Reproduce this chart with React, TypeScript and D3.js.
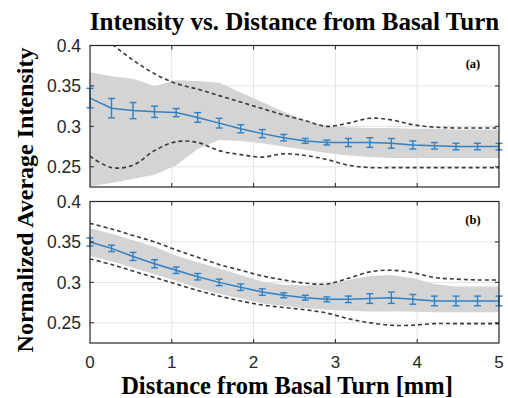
import React from "react";
import * as d3 from "d3";

// distance along the cochlea [mm], 20 samples from 0 to 5
const distances = [0, 0.263, 0.526, 0.789, 1.053, 1.316, 1.579, 1.842, 2.105, 2.368, 2.632, 2.895, 3.158, 3.421, 3.684, 3.947, 4.211, 4.474, 4.737, 5];

// panel (a)
const meanA = [0.335, 0.3225, 0.3195, 0.318, 0.317, 0.311, 0.304, 0.297, 0.291, 0.286, 0.282, 0.280, 0.280, 0.280, 0.279, 0.277, 0.276, 0.275, 0.275, 0.275];
const errA = [0.012, 0.012, 0.010, 0.007, 0.005, 0.006, 0.006, 0.005, 0.005, 0.004, 0.003, 0.003, 0.005, 0.006, 0.006, 0.005, 0.004, 0.004, 0.004, 0.004];
const bandHiA = [0.367, 0.362, 0.359, 0.350, 0.357, 0.356, 0.354, 0.342, 0.330, 0.318, 0.307, 0.300, 0.299, 0.298, 0.298, 0.297, 0.297, 0.296, 0.296, 0.296];
const bandLoA = [0.226, 0.230, 0.235, 0.240, 0.252, 0.272, 0.283, 0.282, 0.279, 0.275, 0.271, 0.267, 0.264, 0.262, 0.261, 0.261, 0.261, 0.261, 0.261, 0.261];
const dashHiA = [0.422, 0.402, 0.382, 0.365, 0.353, 0.346, 0.338, 0.330, 0.322, 0.314, 0.307, 0.300, 0.304, 0.310, 0.308, 0.302, 0.299, 0.298, 0.298, 0.298];
const dashLoA = [0.263, 0.249, 0.252, 0.270, 0.281, 0.280, 0.270, 0.265, 0.262, 0.266, 0.264, 0.259, 0.252, 0.249, 0.249, 0.249, 0.249, 0.249, 0.249, 0.249];

// panel (b)
const meanB = [0.350, 0.342, 0.332, 0.323, 0.315, 0.307, 0.300, 0.294, 0.288, 0.284, 0.281, 0.279, 0.279, 0.280, 0.281, 0.279, 0.277, 0.277, 0.277, 0.277];
const errB = [0.005, 0.004, 0.005, 0.005, 0.004, 0.004, 0.004, 0.004, 0.004, 0.003, 0.003, 0.003, 0.004, 0.006, 0.007, 0.006, 0.006, 0.006, 0.006, 0.006];
const bandHiB = [0.367, 0.360, 0.352, 0.344, 0.333, 0.325, 0.317, 0.309, 0.301, 0.297, 0.296, 0.298, 0.303, 0.308, 0.309, 0.305, 0.298, 0.295, 0.295, 0.295];
const bandLoB = [0.333, 0.326, 0.318, 0.310, 0.302, 0.293, 0.286, 0.280, 0.274, 0.271, 0.268, 0.266, 0.265, 0.264, 0.264, 0.264, 0.263, 0.263, 0.263, 0.263];
const dashHiB = [0.373, 0.366, 0.358, 0.350, 0.340, 0.331, 0.322, 0.315, 0.308, 0.303, 0.299, 0.298, 0.305, 0.313, 0.315, 0.312, 0.306, 0.304, 0.303, 0.303];
const dashLoB = [0.329, 0.322, 0.314, 0.306, 0.298, 0.290, 0.283, 0.277, 0.272, 0.269, 0.266, 0.262, 0.255, 0.250, 0.247, 0.247, 0.249, 0.249, 0.249, 0.249];

const xTicks = [0, 1, 2, 3, 4, 5];
const yTicks = [0.25, 0.3, 0.35, 0.4];
const yTickLabels = ["0.25", "0.3", "0.35", "0.4"];

const W = 508;
const H = 398;
const left = 90;
const right = 499;
const serif = "'Liberation Serif', 'Times New Roman', serif";
const sans = "'Liberation Sans', Arial, sans-serif";
const blue = "#2f80c4";
const axisColor = "#262626";

const x = d3.scaleLinear().domain([0, 5]).range([left, right]);

type PanelProps = {
  id: string;
  top: number;
  bottom: number;
  mean: number[];
  err: number[];
  bandHi: number[];
  bandLo: number[];
  dashHi: number[];
  dashLo: number[];
  tag: string;
  showX: boolean;
};

const Panel = (p: PanelProps) => {
  const y = d3.scaleLinear().domain([0.225, 0.4]).range([p.bottom, p.top]);
  const idx = d3.range(distances.length);

  const band = d3.area<number>()
    .x(i => x(distances[i]))
    .y0(i => y(p.bandLo[i]))
    .y1(i => y(p.bandHi[i]));
  const dashed = (arr: number[]) =>
    d3.line<number>().x(i => x(distances[i])).y(i => y(arr[i])).curve(d3.curveCatmullRom)(idx) || "";
  const meanLine = d3.line<number>().x(i => x(distances[i])).y(i => y(p.mean[i]))(idx) || "";

  const clipId = `clip-${p.id}`;
  const tick = 4;

  return (
    <g>
      <defs>
        <clipPath id={clipId}>
          <rect x={left} y={p.top} width={right - left} height={p.bottom - p.top} />
        </clipPath>
      </defs>
      <rect x={left} y={p.top} width={right - left} height={p.bottom - p.top} fill="white" />
      {/* grid */}
      {xTicks.slice(1, -1).map(t => (
        <line key={`gx${t}`} x1={x(t)} x2={x(t)} y1={p.top} y2={p.bottom} stroke="#e3e3e3" strokeWidth={1} />
      ))}
      {yTicks.slice(0, -1).map(t => (
        <line key={`gy${t}`} x1={left} x2={right} y1={y(t)} y2={y(t)} stroke="#e3e3e3" strokeWidth={1} />
      ))}
      <g clipPath={`url(#${clipId})`}>
        <path d={band(idx) || ""} fill="#d4d4d4" stroke="none" />
        <path d={dashed(p.dashHi)} fill="none" stroke="#3a3a3a" strokeWidth={1.6} strokeDasharray="4,3" />
        <path d={dashed(p.dashLo)} fill="none" stroke="#3a3a3a" strokeWidth={1.6} strokeDasharray="4,3" />
      </g>
      <path d={meanLine} fill="none" stroke={blue} strokeWidth={1.5} />
      {idx.map(i => {
        const cx = x(distances[i]);
        const y0 = y(p.mean[i] - p.err[i]);
        const y1 = y(p.mean[i] + p.err[i]);
        return (
          <g key={`e${i}`} stroke={blue} strokeWidth={1.4}>
            <line x1={cx} x2={cx} y1={y0} y2={y1} />
            <line x1={cx - 3.5} x2={cx + 3.5} y1={y0} y2={y0} />
            <line x1={cx - 3.5} x2={cx + 3.5} y1={y1} y2={y1} />
          </g>
        );
      })}
      {/* box and ticks */}
      <rect x={left} y={p.top} width={right - left} height={p.bottom - p.top} fill="none" stroke={axisColor} strokeWidth={1.2} />
      {xTicks.slice(1, -1).map(t => (
        <g key={`tx${t}`} stroke={axisColor} strokeWidth={1}>
          <line x1={x(t)} x2={x(t)} y1={p.bottom} y2={p.bottom - tick} />
          <line x1={x(t)} x2={x(t)} y1={p.top} y2={p.top + tick} />
        </g>
      ))}
      {yTicks.slice(0, -1).map(t => (
        <g key={`ty${t}`} stroke={axisColor} strokeWidth={1}>
          <line x1={left} x2={left + tick} y1={y(t)} y2={y(t)} />
          <line x1={right} x2={right - tick} y1={y(t)} y2={y(t)} />
        </g>
      ))}
      {yTicks.map((t, k) => (
        <text key={`ly${t}`} x={81} y={y(t)} dy="0.36em" textAnchor="end" fontFamily={sans} fontSize={17.5} fill="#262626">
          {yTickLabels[k]}
        </text>
      ))}
      {p.showX && xTicks.map(t => (
        <text key={`lx${t}`} x={x(t)} y={368} textAnchor="middle" fontFamily={sans} fontSize={17} fill="#262626">
          {t}
        </text>
      ))}
      <text x={right - 26} y={p.top + 22} textAnchor="middle" fontFamily={serif} fontWeight="bold" fontSize={12.5}>
        {p.tag}
      </text>
    </g>
  );
};

export default function App() {
  return (
    <svg width={W} height={H} style={{ position: "absolute", left: 0, top: 0, background: "white" }}>
      <rect width={W} height={H} fill="white" />
      <text x={(left + right) / 2} y={30} textAnchor="middle" fontFamily={serif} fontWeight="bold" fontSize={25}>
        Intensity vs. Distance from Basal Turn
      </text>
      <Panel id="a" top={45.5} bottom={187} mean={meanA} err={errA} bandHi={bandHiA} bandLo={bandLoA}
        dashHi={dashHiA} dashLo={dashLoA} tag="(a)" showX={false} />
      <Panel id="b" top={201.5} bottom={343} mean={meanB} err={errB} bandHi={bandHiB} bandLo={bandLoB}
        dashHi={dashHiB} dashLo={dashLoB} tag="(b)" showX={true} />
      <text x={287} y={394} textAnchor="middle" fontFamily={serif} fontWeight="bold" fontSize={24.5}>
        Distance from Basal Turn [mm]
      </text>
      <text transform="translate(33,200) rotate(-90)" textAnchor="middle" fontFamily={serif} fontWeight="bold" fontSize={24}>
        Normalized Average Intensity
      </text>
    </svg>
  );
}
